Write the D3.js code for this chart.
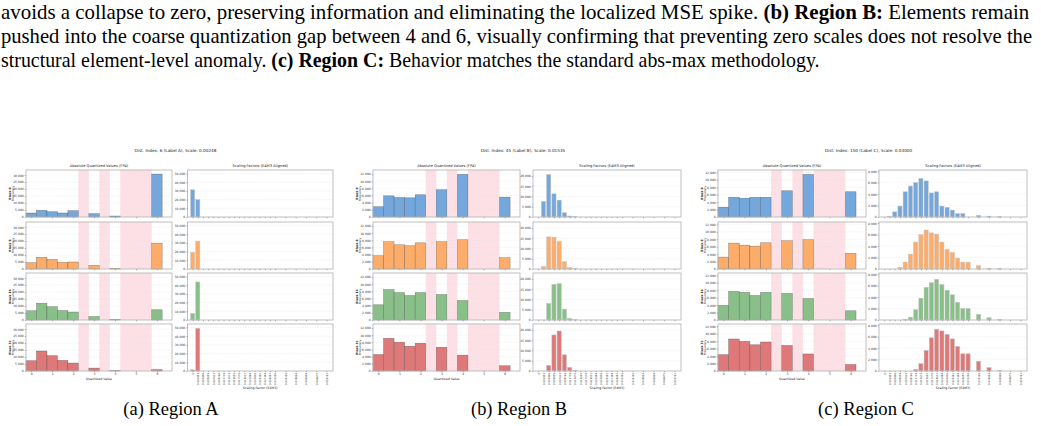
<!DOCTYPE html>
<html>
<head>
<meta charset="utf-8">
<script src="https://cdn.jsdelivr.net/npm/d3@7/dist/d3.min.js"></script>
<style>
  body { margin: 0; background: #fff; }
  svg text { font-family: "DejaVu Sans", sans-serif; }
  svg .paper { font-family: "Liberation Serif", "Times New Roman", serif; fill: #000; }
</style>
</head>
<body>
<div id="fig"></div>
<script>
// ---- data ----
const fp4Values = [0, 0.5, 1, 1.5, 2, 3, 4, 6];
const gapSpans = [[2.25, 2.75], [3.25, 3.75], [4.25, 5.75]];
const blockLabels = ['Block 0', 'Block 8', 'Block 16', 'Block 32'];
const panelTitles = [
    'Dist. Index: 6 (Label A), Scale: 0.00248',
    'Dist. Index: 45 (Label B), Scale: 0.01535',
    'Dist. Index: 150 (Label C), Scale: 0.03000'
];
const captions = ['(a) Region A', '(b) Region B', '(c) Region C'];

// E4M3 scale values on the x axis of the right column
const scaleTicks = [0, 0.001953125, 0.00390625, 0.005859375, 0.0078125, 0.009765625, 0.01171875,
    0.013671875, 0.015625, 0.017578125, 0.01953125, 0.021484375, 0.0234375, 0.025390625,
    0.02734375, 0.029296875, 0.03125, 0.03515625, 0.0390625, 0.04296875, 0.046875, 0.05078125];
const scaleTickLabels = ['0', '0.001953', '0.003906', '0.005859', '0.007812', '0.009766', '0.011719',
    '0.013672', '0.015625', '0.017578', '0.019531', '0.021484', '0.023438', '0.025391',
    '0.027344', '0.029297', '0.031250', '0.035156', '0.039062', '0.042969', '0.046875', '0.050781'];

// histogram counts per FP4 value (rows = blocks)
const histA = [
    [2860, 4760, 3800, 2860, 4500, 2400, 700, 30700],
    [4500, 8400, 6900, 4700, 5000, 2600, 400, 18500],
    [6600, 12000, 9500, 6800, 5700, 2500, 400, 7300],
    [7400, 14300, 11000, 7600, 5700, 2100, 200, 1000]
];
const histB = [
    [2870, 5900, 5450, 5350, 6200, 7600, 11900, 5550],
    [3700, 7600, 6750, 6480, 7300, 7600, 8150, 3150],
    [4240, 8480, 7650, 6820, 7650, 7100, 5440, 2120],
    [4600, 9120, 8020, 6910, 7740, 6630, 4420, 1470]
];
const histC = [
    [2660, 5320, 5050, 5320, 5320, 7060, 11470, 6790],
    [3210, 6970, 6420, 6150, 7060, 7610, 7890, 4220],
    [3940, 7700, 7430, 6600, 7430, 7160, 5780, 2480],
    [4400, 8620, 7980, 7060, 7800, 6880, 4590, 1740]
];

// scale factor counts, one per entry of scaleTicks
const scaleA = [
    [31300, 19900, 0, 0, 0, 0, 0, 0, 0, 0, 0, 0, 0, 0, 0, 0, 0, 0, 0, 0, 0, 0],
    [19200, 32000, 0, 0, 0, 0, 0, 0, 0, 0, 0, 0, 0, 0, 0, 0, 0, 0, 0, 0, 0, 0],
    [7500, 43700, 0, 0, 0, 0, 0, 0, 0, 0, 0, 0, 0, 0, 0, 0, 0, 0, 0, 0, 0, 0],
    [1400, 49000, 0, 0, 0, 0, 0, 0, 0, 0, 0, 0, 0, 0, 0, 0, 0, 0, 0, 0, 0, 0]
];
const scaleB = [
    [0, 7580, 20650, 11290, 8230, 2100, 480, 150, 0, 0, 0, 0, 0, 0, 0, 0, 0, 0, 0, 0, 0, 0],
    [0, 1290, 15650, 15480, 13390, 3550, 650, 150, 0, 0, 0, 0, 0, 0, 0, 0, 0, 0, 0, 0, 0, 0],
    [0, 0, 8060, 17400, 17740, 5320, 800, 160, 0, 0, 0, 0, 0, 0, 0, 0, 0, 0, 0, 0, 0, 0],
    [0, 0, 2740, 17580, 19500, 7900, 1770, 320, 0, 0, 0, 0, 0, 0, 0, 0, 0, 0, 0, 0, 0, 0]
];
const scaleC = [
    [0, 100, 900, 1900, 4400, 5400, 6000, 6700, 6300, 4200, 4400, 1900, 1700, 1200, 600, 600, 0, 300, 150, 50, 0, 0],
    [0, 0, 0, 300, 1200, 2600, 4700, 6000, 6800, 6300, 6100, 4700, 3400, 2900, 1900, 1200, 1200, 600, 150, 80, 0, 0],
    [0, 0, 0, 0, 100, 500, 1800, 3800, 5700, 6500, 7100, 6200, 5200, 4400, 3100, 2000, 2000, 1000, 400, 100, 0, 0],
    [0, 0, 0, 0, 0, 0, 300, 1300, 3600, 5800, 7300, 7000, 6400, 5600, 4300, 3000, 3000, 1700, 600, 100, 0, 0]
];

// axis limits and ticks per panel
const leftTicks = [d3.range(0, 30001, 5000), d3.range(0, 12001, 2000), d3.range(0, 12001, 2000)];
const rightTicks = [d3.range(0, 50001, 10000), d3.range(0, 20001, 5000), d3.range(0, 8001, 2000)];
const leftMax = [33600, 13100, 12650];
const rightMax = [54000, 22900, 8200];

const rowColors = ['#74a7dc', '#fdad69', '#89bf89', '#df7979'];

// ---- layout ----
const config = {
    width: 1041,
    height: 426,
    leftX: [[26, 172], [373, 520], [718, 866]],
    rightX: [[187.5, 333], [533, 681], [879, 1027]],
    rowTop: [170, 222, 273, 324],
    rowH: 47,
    captionX: [171, 519, 866]
};

const svg = d3.select('#fig')
    .append('svg')
    .attr('width', config.width)
    .attr('height', config.height);

// hatch for the quantization gaps
const defs = svg.append('defs');
const pat = defs.append('pattern')
    .attr('id', 'gapHatch')
    .attr('patternUnits', 'userSpaceOnUse')
    .attr('width', 3)
    .attr('height', 3);
pat.append('rect').attr('width', 3).attr('height', 3).attr('fill', '#fde3e8');
pat.append('path')
    .attr('d', 'M-1,1 l2,-2 M0,3 l3,-3 M2,4 l2,-2')
    .attr('stroke', '#f8ccd6')
    .attr('stroke-width', 0.4);

// ---- paper text above the figure ----
const bodyLines = [
    [['avoids a collapse to zero, preserving information and eliminating the localized MSE spike. ', false], ['(b) Region B:', true], [' Elements remain', false]],
    [['pushed into the coarse quantization gap between 4 and 6, visually confirming that preventing zero scales does not resolve the', false]],
    [['structural element-level anomaly. ', false], ['(c) Region C:', true], [' Behavior matches the standard abs-max methodology.', false]]
];
const lineLengths = [1029, 1032, 819];

// squeeze a text horizontally to a given width (the source is a condensed scan)
function fitWidth(sel, x, y, target) {
    const w = sel.node().getBBox().width;
    sel.attr('transform', `translate(${x},${y}) scale(${target / w},1)`);
}

bodyLines.forEach((parts, i) => {
    const t = svg.append('text')
        .attr('class', 'paper')
        .attr('font-size', 20)
        .style('white-space', 'pre');
    parts.forEach(p => {
        t.append('tspan')
            .attr('font-weight', p[1] ? 'bold' : 'normal')
            .text(p[0]);
    });
    fitWidth(t, 1, 19 + i * 24, lineLengths[i]);
});

// ---- one small axes ----
function drawAxes(g, o) {
    const x = o.x, y = o.y;
    const [x0, x1] = x.range();
    const [yb, yt] = y.range();

    if (o.spans) {
        g.selectAll('rect.gap')
            .data(o.spans)
            .join('rect')
            .attr('class', 'gap')
            .attr('x', d => x(d[0]))
            .attr('width', d => x(d[1]) - x(d[0]))
            .attr('y', yt)
            .attr('height', yb - yt)
            .attr('fill', 'url(#gapHatch)');
    }

    // grid
    g.selectAll('line.grid')
        .data(o.yTicks.slice(1))
        .join('line')
        .attr('class', 'grid')
        .attr('x1', x0).attr('x2', x1)
        .attr('y1', d => y(d)).attr('y2', d => y(d))
        .attr('stroke', '#e3e3e3')
        .attr('stroke-width', 0.4)
        .attr('stroke-dasharray', '1.5,1');

    // bars
    g.selectAll('rect.bar')
        .data(o.bars.filter(d => d.v > 0))
        .join('rect')
        .attr('class', 'bar')
        .attr('x', d => x(d.a))
        .attr('width', d => x(d.b) - x(d.a))
        .attr('y', d => y(d.v))
        .attr('height', d => yb - y(d.v))
        .attr('fill', o.color)
        .attr('stroke', o.edge)
        .attr('stroke-width', 0.5);

    // spines
    g.append('rect')
        .attr('x', x0).attr('y', yt)
        .attr('width', x1 - x0).attr('height', yb - yt)
        .attr('fill', 'none')
        .attr('stroke', '#b8b8b8')
        .attr('stroke-width', 0.9);

    const yAxis = d3.axisLeft(y)
        .tickValues(o.yTicks)
        .tickSize(1.3)
        .tickPadding(1);
    const yG = g.append('g')
        .attr('transform', `translate(${x0},0)`)
        .call(yAxis);
    yG.select('.domain').remove();
    yG.selectAll('line').attr('stroke', '#555').attr('stroke-width', 0.4);
    yG.selectAll('text').attr('font-size', 3).attr('fill', '#333').attr('font-family', 'DejaVu Sans');

    const xAxis = d3.axisBottom(x)
        .tickValues(o.xTicks)
        .tickSize(1.3)
        .tickPadding(1)
        .tickFormat((d, i) => o.showX ? o.xLabels[i] : '');
    const xG = g.append('g')
        .attr('transform', `translate(0,${yb})`)
        .call(xAxis);
    xG.select('.domain').remove();
    xG.selectAll('line').attr('stroke', '#555').attr('stroke-width', 0.4);
    xG.selectAll('text').attr('fill', '#333').attr('font-family', 'DejaVu Sans');
    if (o.rotate) {
        xG.selectAll('text')
            .attr('font-size', 2.5)
            .attr('transform', 'rotate(-90)')
            .attr('text-anchor', 'end')
            .attr('dy', '0.35em')
            .attr('x', -2)
            .attr('y', 0);
    } else {
        xG.selectAll('text').attr('font-size', 3);
    }
}

// ---- panels ----
const hists = [histA, histB, histC];
const scales = [scaleA, scaleB, scaleC];
const step = scaleTicks[1];

hists.forEach((hist, p) => {
    const panel = svg.append('g').attr('class', 'panel');
    const lx = config.leftX[p];
    const rx = config.rightX[p];

    panel.append('text')
        .attr('x', (lx[0] + rx[1]) / 2 - 4)
        .attr('y', 152)
        .attr('text-anchor', 'middle')
        .attr('font-size', 4.2)
        .attr('fill', '#222')
        .text(panelTitles[p]);

    panel.append('text')
        .attr('x', (lx[0] + lx[1]) / 2)
        .attr('y', 167)
        .attr('text-anchor', 'middle')
        .attr('font-size', 3.6)
        .attr('fill', '#222')
        .text('Absolute Quantized Values (FP4)');
    panel.append('text')
        .attr('x', (rx[0] + rx[1]) / 2)
        .attr('y', 167)
        .attr('text-anchor', 'middle')
        .attr('font-size', 3.6)
        .attr('fill', '#222')
        .text('Scaling Factors (E4M3 Aligned)');

    const xLeft = d3.scaleLinear().domain([-0.25, 6.72]).range(lx);
    const xRight = d3.scaleLinear()
        .domain([-1.0 * step, scaleTicks[scaleTicks.length - 1] + 1.25 * step])
        .range(rx);

    hist.forEach((counts, r) => {
        const top = config.rowTop[r];
        const bottom = top + config.rowH;
        const last = r === hist.length - 1;

        const yL = d3.scaleLinear().domain([0, leftMax[p]]).range([bottom, top]);
        drawAxes(panel.append('g'), {
            x: xLeft,
            y: yL,
            spans: gapSpans,
            bars: fp4Values.map((v, i) => ({a: v - 0.25, b: v + 0.25, v: counts[i]})),
            color: rowColors[r],
            edge: 'rgba(60,60,60,0.55)',
            yTicks: leftTicks[p],
            xTicks: d3.range(0, 7),
            xLabels: d3.range(0, 7).map(String),
            showX: last
        });

        // y label: block + Frequency
        const yl = panel.append('text')
            .attr('transform', `translate(${lx[0] - 15},${top + config.rowH / 2}) rotate(-90)`)
            .attr('text-anchor', 'middle')
            .attr('font-size', 3)
            .attr('fill', '#222');
        yl.append('tspan').attr('x', 0).attr('dy', 0).attr('font-weight', 'bold').text(blockLabels[r]);
        yl.append('tspan').attr('x', 0).attr('dy', '1.15em').text('Frequency');

        const yR = d3.scaleLinear().domain([0, rightMax[p]]).range([bottom, top]);
        drawAxes(panel.append('g'), {
            x: xRight,
            y: yR,
            bars: scaleTicks.map((v, i) => ({a: v - 0.4 * step, b: v + 0.4 * step, v: scales[p][r][i]})),
            color: rowColors[r],
            edge: '#c4c4c4',
            yTicks: rightTicks[p],
            xTicks: scaleTicks,
            xLabels: scaleTickLabels,
            showX: last,
            rotate: true
        });
    });

    const lastBottom = config.rowTop[3] + config.rowH;
    panel.append('text')
        .attr('x', (lx[0] + lx[1]) / 2)
        .attr('y', lastBottom + 9)
        .attr('text-anchor', 'middle')
        .attr('font-size', 3.2)
        .attr('fill', '#222')
        .text('Quantized Value');
    panel.append('text')
        .attr('x', (rx[0] + rx[1]) / 2)
        .attr('y', lastBottom + 18)
        .attr('text-anchor', 'middle')
        .attr('font-size', 3.2)
        .attr('fill', '#222')
        .text('Scaling Factor (E4M3)');

    const cap = svg.append('text')
        .attr('class', 'paper')
        .attr('text-anchor', 'middle')
        .attr('font-size', 18.5)
        .text(captions[p]);
    const cw = cap.node().getBBox().width;
    cap.attr('transform', `translate(${config.captionX[p]},415) scale(${96 / cw},1)`);
});
</script>
</body>
</html>
